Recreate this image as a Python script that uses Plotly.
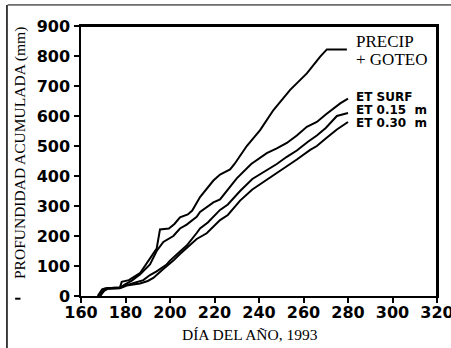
import plotly.graph_objects as go

precip_day = [167.5, 169.5, 171, 177.5, 178.3, 181.5, 186.5, 191, 194, 195.5, 199.5, 202, 204.5, 208, 210,
              213.5, 219.5, 222.5, 227, 229, 234.5, 240.5, 246.5, 254, 261.5, 267.5, 270.5, 279.5]
precip_val = [0, 22, 26, 28, 47, 53, 76, 128, 158, 222, 225, 240, 262, 272, 285,
              330, 385, 405, 422, 440, 500, 553, 620, 687, 742, 798, 822, 822]

surf_day = [168.5, 170.5, 172, 177.5, 180, 183, 186.5, 191, 194, 197, 201.5, 204.5, 207.5, 212, 213.5,
            219.5, 222.5, 230, 236.5, 243.5, 248, 252.5, 257, 261.5, 266, 270, 276.5, 280]
surf_val = [0, 22, 26, 28, 40, 52, 72, 105, 150, 180, 200, 225, 238, 264, 280,
            312, 322, 392, 440, 476, 492, 510, 535, 564, 580, 605, 642, 658]

et15_day = [168.5, 170.5, 172, 177.5, 180, 183.5, 188, 191, 194, 198.5, 200, 204.5, 207.5, 212, 213.5,
            217, 222.5, 226, 231.5, 237, 243.5, 248, 252.5, 257, 262, 266, 270, 275, 280]
et15_val = [0, 20, 25, 27, 35, 42, 53, 70, 82, 105, 118, 148, 168, 210, 225,
            245, 287, 305, 350, 390, 420, 440, 464, 485, 514, 535, 560, 600, 610]

et30_day = [168.5, 170.5, 172, 177.5, 180.5, 186.5, 190, 192.5, 197, 201.5, 204.5, 207.5, 212, 216.5,
            222.5, 226, 231.5, 237, 243.5, 248, 252.5, 257, 263, 266, 270, 275, 280]
et30_val = [0, 18, 24, 26, 35, 42, 50, 60, 90, 118, 140, 160, 190, 209,
            253, 270, 318, 355, 387, 410, 431, 455, 487, 500, 525, 555, 580]

x_ticks = [160, 180, 200, 220, 240, 260, 280, 300, 320]
y_ticks = [0, 100, 200, 300, 400, 500, 600, 700, 800, 900]

fig = go.Figure()
for d, v in [(precip_day, precip_val), (surf_day, surf_val), (et15_day, et15_val), (et30_day, et30_val)]:
    fig.add_trace(go.Scatter(x=d, y=v, mode="lines", line=dict(color="black", width=2), showlegend=False))

bold = dict(family="DejaVu Sans, sans-serif", size=16, color="black", weight=700)
serif = dict(family="Liberation Serif, Times New Roman, serif", size=15.5, color="black")

fig.update_layout(
    width=451, height=348,
    margin=dict(l=81, r=14, t=26, b=52, autoexpand=False),
    paper_bgcolor="white", plot_bgcolor="white",
    xaxis=dict(range=[160, 320], tickvals=x_ticks, ticks="outside", ticklen=5, tickwidth=1.5,
               tickcolor="black", showline=True, linecolor="black", linewidth=1.5, mirror=True,
               showgrid=False, zeroline=False, tickfont=bold, automargin=False, ticklabelstandoff=-4,
               ticklabeloverflow="allow"),
    yaxis=dict(range=[0, 900], tickvals=y_ticks, ticks="outside", ticklen=5, tickwidth=1.5,
               tickcolor="black", showline=True, linecolor="black", linewidth=1.5, mirror=True,
               showgrid=False, zeroline=False, tickfont=bold, automargin=False, ticklabelstandoff=1,
               ticklabeloverflow="allow"),
)

# plot frame (top and right edges drawn explicitly)
fig.add_shape(type="line", xref="paper", yref="paper", x0=0, x1=1, y0=1, y1=1,
              line=dict(color="black", width=2), layer="above")
fig.add_shape(type="line", xref="paper", yref="paper", x0=1, x1=1, y0=0, y1=1,
              line=dict(color="black", width=2), layer="above")

fig.add_annotation(xref="paper", yref="paper", x=-0.171, y=0.53, text="PROFUNDIDAD ACUMULADA (mm)",
                   textangle=-90, showarrow=False, font=serif, xanchor="center", yanchor="middle")
fig.add_annotation(xref="paper", yref="paper", x=0.475, y=-0.141, text="DÍA DEL AÑO, 1993",
                   showarrow=False, font=serif, xanchor="center", yanchor="middle")

ser = dict(family="Liberation Serif, serif", size=17, color="black")
fig.add_annotation(x=282.5, y=848, text="PRECIP", showarrow=False, xanchor="left", font=ser)
fig.add_annotation(x=282.5, y=790, text="+ GOTEO", showarrow=False, xanchor="left", font=ser)
lab = dict(family="DejaVu Sans, sans-serif", size=12, color="black", weight=700)
fig.add_annotation(x=282.5, y=664, text="ET SURF", showarrow=False, xanchor="left", font=lab)
fig.add_annotation(x=282.5, y=620, text="ET 0.15  m", showarrow=False, xanchor="left", font=lab)
fig.add_annotation(x=282.5, y=576, text="ET 0.30  m", showarrow=False, xanchor="left", font=lab)

# scan border lines and mark
fig.add_shape(type="line", xref="paper", yref="paper", x0=-0.206, x1=1.04, y0=1.078, y1=1.078,
              line=dict(color="black", width=1))
fig.add_shape(type="line", xref="paper", yref="paper", x0=-0.208, x1=-0.208, y0=-0.2, y1=1.078,
              line=dict(color="black", width=1.5))
fig.add_shape(type="line", xref="paper", yref="paper", x0=-0.185, x1=-0.17, y0=-0.01, y1=-0.01,
              line=dict(color="black", width=2))

fig.write_html("out.html", config={"displayModeBar": False},
               post_script="document.body.style.margin='0';document.body.style.overflow='hidden';")
